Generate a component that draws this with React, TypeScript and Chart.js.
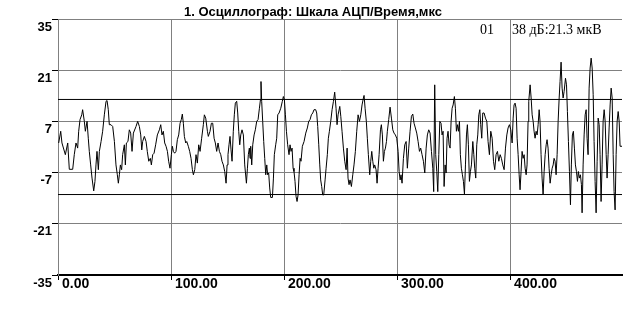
import React, { useEffect, useRef } from "react";
import { Chart, registerables } from "chart.js";

Chart.register(...registerables);

// Time, µs
const timeUs: number[] = [
  0.6, 2.4, 3.5, 6.5, 8.6, 10.0, 13.0, 14.4, 15.9, 17.4, 18.3, 19.5, 21.0, 21.8, 23.3, 24.2, 25.7, 26.8, 27.7, 28.9,
  30.1, 31.6, 32.7, 33.6, 34.5, 35.7, 36.6, 38.1, 39.5, 41.0, 42.5, 43.4, 44.5, 45.4, 46.9, 48.4, 49.9, 51.3, 52.5, 53.4,
  54.3, 55.2, 56.3, 57.2, 58.7, 59.6, 60.5, 61.9, 63.1, 64.3, 65.5, 66.7, 69.0, 70.5, 72.0, 73.2, 74.1, 74.9, 76.4, 77.9,
  79.0, 80.3, 81.7, 82.6,
  83.8, 85.0, 86.4, 87.9, 89.7, 90.9, 92.0, 93.2, 94.4, 95.6, 96.8, 97.9, 99.1, 100.3, 101.2, 102.1, 103.2, 104.4, 105.6, 106.8,
  108.0, 109.1, 110.0, 110.9, 111.8, 113.0, 113.9, 115.3, 116.5, 117.7, 118.9, 119.8, 121.0, 122.1, 123.3, 124.5, 125.7, 127.1, 128.6, 129.5,
  130.7, 132.2, 133.0, 134.5, 135.7, 136.9, 138.1, 139.2, 140.4, 141.6, 142.8, 144.0, 145.1, 146.3, 147.5, 148.7, 149.6, 150.4, 151.3, 152.2,
  153.1, 154.0, 155.1, 156.0, 156.9, 158.1, 159.0, 159.9, 160.8, 161.7, 162.8, 164.0, 165.2,
  166.7, 167.6, 168.4, 169.3, 169.9, 170.5, 171.4, 172.3, 173.5, 174.6, 175.8, 177.0, 178.2, 179.1, 179.6, 180.2, 181.1, 182.0, 182.9, 183.8,
  184.7, 185.5, 186.4, 187.3, 188.2, 189.7, 190.6, 191.4, 192.6, 193.5, 194.4, 195.6, 197.1, 198.5, 199.4, 200.3, 201.2, 202.1, 203.2, 204.4,
  205.3, 206.2, 207.1, 208.0, 208.8, 209.7, 210.6, 211.5, 212.4, 213.3, 214.2, 215.0, 216.2, 217.7, 219.2, 220.6, 221.8, 223.0, 224.2, 225.4,
  226.5, 228.0, 228.9, 229.8, 230.7, 231.6, 232.4, 233.3, 234.2, 235.1, 236.3, 237.2, 238.3, 239.2, 240.1, 241.3, 242.5, 243.7, 244.8, 246.0,
  246.9, 247.8,
  249.3, 250.2, 251.3, 252.5, 253.7, 254.9, 255.8, 256.6, 257.5, 258.4, 259.6, 260.8, 261.9, 263.1, 264.3, 265.5, 266.7, 267.9, 269.0, 270.2,
  270.8, 271.7, 272.8, 273.7, 274.6, 275.8, 276.7, 277.6, 278.5, 279.4, 280.2, 281.4, 282.3, 283.2, 284.1, 285.3, 286.1, 287.0, 287.9, 288.8,
  289.7, 290.6, 291.4, 292.6, 293.8, 295.0, 296.2, 297.3, 298.5, 299.7, 300.9, 301.8, 302.7, 303.5, 304.4, 305.6, 306.8, 308.0, 309.1, 310.3,
  311.5, 312.7, 313.9, 315.0, 316.2, 317.4, 318.6, 319.8, 320.9, 322.1, 323.3, 324.5, 325.7, 326.8, 328.0, 329.2, 330.4, 331.6,
  332.4, 333.3, 334.2, 335.1, 336.0, 336.9, 337.8, 338.9, 339.8, 340.7, 341.6, 342.5, 343.4, 344.2, 345.1, 346.0, 346.9, 347.8, 348.7, 349.6,
  350.7, 351.6, 352.5, 353.4, 354.3, 355.2, 356.0, 356.9, 357.8, 358.7, 359.6, 360.5, 361.4, 362.2, 363.1, 364.0, 364.9, 365.8, 367.0, 367.9,
  368.7, 369.6, 370.5, 371.4, 372.3, 373.2, 374.0, 374.9, 375.8, 377.0, 378.2, 379.4, 380.5, 381.7, 382.9, 384.1, 385.3, 386.4, 387.6, 388.8,
  390.0, 391.2, 392.3, 393.5, 394.7, 395.9, 397.1, 398.2, 399.4, 400.6, 401.8, 402.7, 403.5, 404.4, 405.3, 406.2, 407.1, 408.0, 408.8, 409.7,
  410.6, 411.5, 412.4, 413.3, 414.2, 415.0,
  415.9, 416.5, 417.7, 418.6, 419.5, 420.4, 421.2, 422.1, 423.0, 423.9, 424.8, 425.7, 426.5, 427.4, 428.3, 429.2, 430.1, 431.0, 431.9, 432.7,
  433.6, 434.5, 435.4, 436.3, 437.2, 438.1, 438.9, 439.8, 440.7, 441.6, 442.5, 443.4, 444.2, 445.1, 446.0, 446.9, 447.8, 449.0, 449.9, 450.7,
  451.6, 452.5, 453.4, 454.2, 455.1, 456.0, 456.9, 457.8, 458.7, 459.6, 460.4, 461.3, 462.2, 463.1, 463.7, 464.6, 465.5, 466.4, 467.3, 468.1,
  469.0, 469.9, 470.8, 471.7, 472.6, 473.5, 474.3, 475.2, 476.1, 477.0, 477.9, 478.8, 479.6, 480.5, 481.4, 482.3, 483.2, 484.1, 485.0, 485.8,
  486.7, 487.6, 488.5, 489.4, 490.3, 491.2, 492.0, 492.9, 493.8, 494.7, 495.6, 496.5, 497.3, 499.0,
];

// ADC scale values
const adcValues: number[] = [
  1.1, 4.3, 1.1, -2.1, 1.1, -6.1, -6.1, -2.1, 1.1, -0.3, 4.3, 7.5, 8.8, 10.2, 7.0, 4.3, 7.0, 2.4, -1.2, -4.9,
  -8.5, -12.0, -9.4, -4.9, -1.2, -6.2, -1.2, 1.5, 4.3, 8.8, 12.5, 12.7, 10.2, 6.1, 6.1, 5.6, 1.5, -4.9, -7.6, -9.9,
  -7.6, -4.9, -6.2, -2.1, 0.6, -4.9, 1.1, 1.5, 4.7, 3.8, -1.2, 3.8, 5.6, 7.0, 5.6, 3.3, -0.8, 1.5, 2.9, 1.5,
  -1.2, -3.9, -3.1, -4.9,
  -2.1, -1.7, 0.6, 3.3, 4.7, 6.1, 3.3, 4.3, 1.1, 0.2, -1.2, -3.9, -5.8, -2.1, 0.2, -1.2, -1.7, -1.2, 2.0, 3.3,
  6.5, 7.5, 9.0, 6.5, 2.9, 1.1, 1.5, 0.2, -1.2, -3.1, -6.2, -7.6, -6.2, -2.1, -4.4, 0.6, -1.2, 2.4, 6.1, 8.8,
  7.9, 4.3, 2.9, 4.3, 6.5, 6.5, 2.4, 1.1, -1.2, 1.1, -1.2, -2.1, -3.9, -4.9, -6.7, -9.9, -4.9, -2.1, 0.6, 2.9,
  -0.8, -3.9, 4.3, 8.8, 12.0, 12.5, 9.3, 4.3, 0.6, 3.3, 4.7, 3.3, -4.9,
  -9.9, -5.8, -2.1, -0.3, -3.1, 0.2, -4.9, 0.6, 3.3, 4.7, 7.0, 7.5, 10.6, 12.9, 17.9, 12.5, 7.0, 1.5, -3.1, -7.6,
  -4.9, -7.6, -7.1, -11.2, -13.8, -13.8, -8.5, -2.1, 0.6, 2.4, 8.8, 9.3, 10.6, 12.5, 13.8, 12.9, 8.8, 4.3, 0.6, -2.1,
  0.6, -1.2, -0.3, -5.8, -6.7, -9.4, -13.5, -14.9, -13.1, -7.6, -3.1, -3.9, 0.2, 1.5, 3.8, 5.2, 7.0, 7.5, 8.8, 9.3,
  10.2, 10.2, 9.3, 5.6, 0.6, -4.9, -9.0, -10.8, -13.1, -13.1, -9.0, -5.8, -2.1, 2.4, 4.3, 7.0, 10.2, 12.5, 15.0, 10.6,
  6.1, 8.8,
  11.1, 8.4, 4.3, -0.3, -3.9, -6.2, -0.3, -8.5, -10.3, -9.0, -10.8, -7.6, -4.9, -1.2, 4.3, 8.8, 7.0, 8.8, 11.5, 13.4,
  14.1, 10.6, 7.0, 2.4, -2.1, -7.6, -3.9, -1.2, -3.9, -5.8, -4.9, -6.2, -9.9, -5.8, -2.1, 4.7, 6.1, 3.3, -3.9, -1.2,
  -0.3, 1.5, 4.3, 7.5, 10.9, 7.9, 4.7, 3.8, 3.3, 2.4, -1.2, -6.7, -9.0, -7.6, -9.9, -3.1, 0.6, 1.5, -5.8, -0.3,
  4.3, 8.4, 9.0, 6.5, 5.2, 3.8, 1.5, -1.2, -0.3, -2.1, -3.9, -7.1, -0.3, 3.3, 4.7, 3.8, -1.2, -5.8,
  -12.2, 17.0, -2.1, -6.7, -12.2, -2.1, 7.0, 6.5, 3.3, 4.3, -10.8, -4.9, -7.1, 2.4, 4.3, 0.6, -0.3, 7.0, 10.6, 11.5,
  13.8, 10.6, 4.3, 6.1, 4.3, 7.0, -2.1, -5.8, -7.6, -9.4, -12.9, -4.9, 3.3, 6.1, 0.6, -9.4, -6.7, -4.9, 1.5, -2.1,
  -5.8, -8.5, 0.6, 3.3, 8.8, 10.2, 6.1, 2.4, 9.3, 9.3, 7.9, 7.0, 1.5, -2.1, 4.3, 2.4, -3.9, -6.2, -2.1, -1.2,
  -3.9, -2.1, -3.1, -4.9, -6.2, -0.3, 3.3, 5.2, 6.1, 4.7, 1.1, 7.9, 11.5, 12.0, 10.6, 2.4, -2.1, -7.6, -11.7, -6.7,
  -1.2, -3.1, -2.1, -5.8, -7.6, -4.9,
  7.0, 12.5, 17.0, 13.4, 8.8, 7.0, 4.3, 2.4, 4.3, 3.3, 6.1, 10.2, 7.0, -2.1, -8.5, -13.1, -6.7, -2.1, 0.6, 2.0,
  -0.3, -5.8, -9.9, -7.6, -5.8, -4.9, -3.1, -3.9, -7.6, -2.1, 7.0, 13.4, 17.9, 23.2, 16.1, 13.4, 15.2, 18.8, 17.0, 9.7,
  1.5, -6.7, -15.8, -4.9, 3.3, 4.3, -0.3, -4.9, -6.7, -9.4, -6.7, -8.5, -7.6, -10.3, -18.0, -4.9, 3.3, 8.8, 10.2, 2.4,
  -2.1, 16.1, 21.6, 24.3, 21.6, 14.3, 1.5, -9.4, -18.0, -3.9, 7.9, 6.1, -2.1, -14.9, -4.9, 7.0, 10.2, 7.0, -2.1, -8.5,
  -2.1, 5.2, 11.5, 16.1, 13.4, -2.1, -12.2, -17.2, -2.1, 7.0, 9.7, 7.0, 0.2, 0.2,
];

const thresholdLevels: number[] = [13, -13];
const timeRange: number[] = [0, 499];
const adcRange: number[] = [-35, 35];
const timeTicks: number[] = [0, 100, 200, 300, 400];
const adcTicks: number[] = [-35, -21, -7, 7, 21, 35];

const titleText = "1. Осциллограф: Шкала АЦП/Время,мкс";
const channelText = "01";
const gainText = "38 дБ:21.3 мкВ";

export default function App() {
  const canvasRef = useRef<HTMLCanvasElement | null>(null);

  useEffect(() => {
    document.body.style.margin = "0";
    const canvas = canvasRef.current;
    if (!canvas) return;

    const trace = timeUs.map((t, i) => ({ x: t, y: adcValues[i] }));
    const thresholdSets = thresholdLevels.map((lvl) => ({
      data: timeRange.map((t) => ({ x: t, y: lvl })),
      borderColor: "#000000",
      borderWidth: 1,
      pointRadius: 0,
      tension: 0,
      fill: false,
    }));

    const textPlugin = {
      id: "oscText",
      afterDraw(chart: any) {
        const ctx = chart.ctx as CanvasRenderingContext2D;
        ctx.save();
        ctx.fillStyle = "#000000";
        ctx.textBaseline = "alphabetic";
        ctx.font = "bold 13px 'Liberation Sans', Arial, sans-serif";
        ctx.textAlign = "center";
        ctx.fillText(titleText, 313, 16);
        ctx.font = "14px 'Liberation Serif', 'Times New Roman', serif";
        ctx.textAlign = "left";
        ctx.fillText(channelText, 480, 34);
        ctx.fillText(gainText, 512, 34);
        ctx.restore();
      },
    };

    const tickFont = { family: "'Liberation Sans', Arial, sans-serif", weight: "bold" as const };

    const chart = new Chart(canvas, {
      type: "line",
      data: {
        datasets: [
          {
            data: trace,
            borderColor: "#000000",
            borderWidth: 1,
            pointRadius: 0,
            tension: 0,
            fill: false,
          },
          ...thresholdSets,
        ],
      },
      options: {
        responsive: false,
        animation: false,
        events: [],
        layout: { padding: { top: 19, right: 2, left: 0, bottom: 0 } },
        plugins: {
          legend: { display: false },
          tooltip: { enabled: false },
          title: { display: false },
        },
        scales: {
          x: {
            type: "linear",
            min: timeRange[0],
            max: timeRange[1],
            afterBuildTicks: (s: any) => {
              s.ticks = timeTicks.map((v) => ({ value: v }));
            },
            afterFit: (s: any) => {
              s.height = 48;
            },
            ticks: {
              align: "start",
              labelOffset: 4,
              padding: -4,
              maxRotation: 0,
              autoSkip: false,
              color: "#000000",
              font: { ...tickFont, size: 14 },
              callback: (v: any) => Number(v).toFixed(2),
            },
            grid: { color: "#808080", tickColor: "#000000", tickLength: 5, lineWidth: 1 },
            border: { color: "#000000", width: 2 },
          },
          y: {
            type: "linear",
            min: adcRange[0],
            max: adcRange[1],
            afterBuildTicks: (s: any) => {
              s.ticks = adcTicks.map((v) => ({ value: v }));
            },
            afterFit: (s: any) => {
              s.width = 58;
            },
            ticks: {
              labelOffset: 8,
              padding: 0,
              autoSkip: false,
              color: "#000000",
              font: { ...tickFont, size: 13 },
            },
            grid: { color: "#808080", tickColor: "#000000", tickLength: 6, lineWidth: 1 },
            border: { color: "#808080", width: 1 },
          },
        },
      },
      plugins: [textPlugin],
    } as any);

    return () => {
      chart.destroy();
    };
  }, []);

  return (
    <div style={{ width: 624, height: 323, background: "#ffffff" }}>
      <canvas ref={canvasRef} width={624} height={323} style={{ display: "block" }} />
    </div>
  );
}
